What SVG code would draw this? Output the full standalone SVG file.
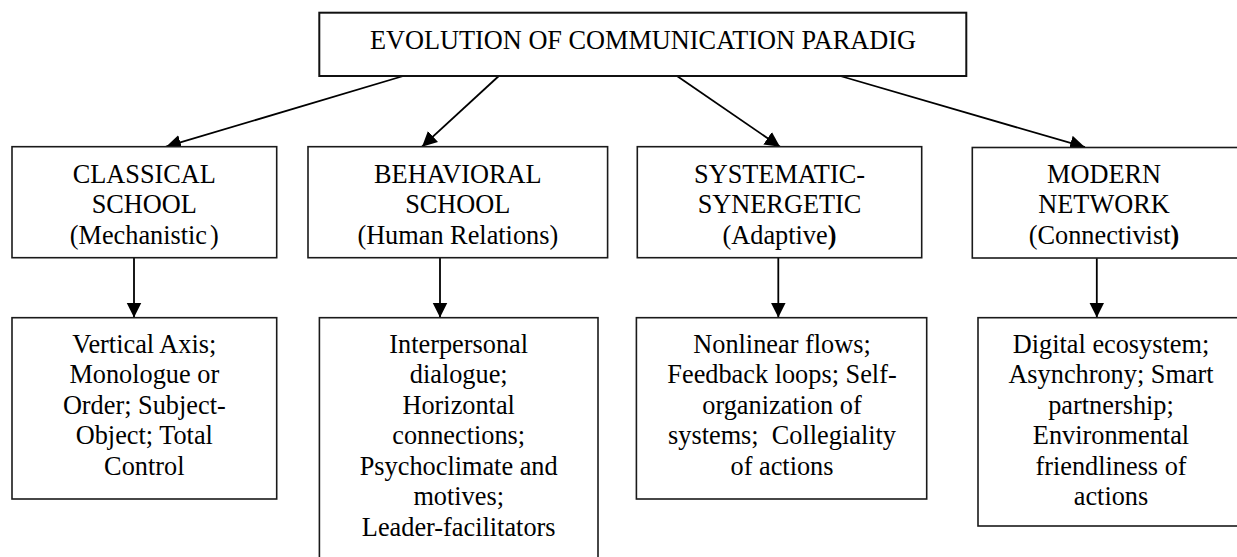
<svg xmlns="http://www.w3.org/2000/svg" width="1237" height="557" viewBox="0 0 1237 557">
  <style>
    .box { fill: #ffffff; stroke: #1a1a1a; stroke-width: 1.6; }
    .title { fill: #ffffff; stroke: #111111; stroke-width: 2; }
    .lbl { font-family: "Liberation Serif", "Times New Roman", serif; font-size: 26.3px; fill: #000000; text-anchor: middle; }
    .conn { stroke: #000000; stroke-width: 1.8; fill: none; marker-end: url(#arrow); }
    .bp { font-weight: bold; }
  </style>
  <defs>
    <marker id="arrow" markerUnits="userSpaceOnUse" markerWidth="16" markerHeight="16" refX="15" refY="7.5" orient="auto">
      <path d="M0,0 L15,7.5 L0,15 z" fill="#000000"/>
    </marker>
  </defs>
  <rect width="1237" height="557" fill="#ffffff"/>

  <g id="connectors">
    <line class="conn" x1="403.3" y1="76" x2="166" y2="146.7"/>
    <line class="conn" x1="498.8" y1="76" x2="422" y2="146.7"/>
    <line class="conn" x1="677" y1="76" x2="780" y2="146.7"/>
    <line class="conn" x1="840.3" y1="76" x2="1085" y2="147.2"/>
    <line class="conn" x1="134" y1="257.7" x2="134" y2="317.5"/>
    <line class="conn" x1="440" y1="257.7" x2="440" y2="317.5"/>
    <line class="conn" x1="778.3" y1="257.7" x2="778.3" y2="317.5"/>
    <line class="conn" x1="1096.8" y1="258.2" x2="1096.8" y2="317.5"/>
  </g>

  <g id="title">
    <rect class="title" x="319.3" y="12.7" width="647" height="63.3"/>
    <text class="lbl" x="643" y="49.3">EVOLUTION OF COMMUNICATION PARADIG</text>
  </g>

  <g id="classical">
    <rect class="box" x="12" y="146.7" width="264.7" height="111"/>
    <text class="lbl" x="144.3" y="182.7">CLASSICAL<tspan x="144.3" dy="30.5">SCHOOL</tspan><tspan x="144.3" dy="30.5">(Mechanistic<tspan dx="3">)</tspan></tspan></text>
  </g>

  <g id="behavioral">
    <rect class="box" x="308" y="146.7" width="299.6" height="111"/>
    <text class="lbl" x="457.8" y="182.7">BEHAVIORAL<tspan x="457.8" dy="30.5">SCHOOL</tspan><tspan x="457.8" dy="30.5">(Human Relations)</tspan></text>
  </g>

  <g id="systematic">
    <rect class="box" x="637.3" y="146.7" width="284.4" height="111"/>
    <text class="lbl" x="779.5" y="182.7">SYSTEMATIC-<tspan x="779.5" dy="30.5">SYNERGETIC</tspan><tspan x="779.5" dy="30.5">(Adaptive<tspan class="bp">)</tspan></tspan></text>
  </g>

  <g id="modern">
    <rect class="box" x="972.3" y="147.5" width="265.5" height="110.5"/>
    <text class="lbl" x="1104" y="182.7">MODERN<tspan x="1104" dy="30.5">NETWORK</tspan><tspan x="1104" dy="30.5">(Connectivist<tspan class="bp">)</tspan></tspan></text>
  </g>

  <g id="classical-detail">
    <rect class="box" x="12" y="317.7" width="264.7" height="181.3"/>
    <text class="lbl" x="144.3" y="352.7">Vertical Axis;<tspan x="144.3" dy="30.5">Monologue or</tspan><tspan x="144.3" dy="30.5">Order; Subject-</tspan><tspan x="144.3" dy="30.5">Object; Total</tspan><tspan x="144.3" dy="30.5">Control</tspan></text>
  </g>

  <g id="behavioral-detail">
    <rect class="box" x="319.4" y="317.7" width="278.6" height="250"/>
    <text class="lbl" x="458.7" y="352.7">Interpersonal<tspan x="458.7" dy="30.5">dialogue;</tspan><tspan x="458.7" dy="30.5">Horizontal</tspan><tspan x="458.7" dy="30.5">connections;</tspan><tspan x="458.7" dy="30.5">Psychoclimate and</tspan><tspan x="458.7" dy="30.5">motives;</tspan><tspan x="458.7" dy="30.5">Leader-facilitators</tspan></text>
  </g>

  <g id="systematic-detail">
    <rect class="box" x="636.4" y="317.7" width="290.3" height="181.3"/>
    <text class="lbl" x="782" y="352.7">Nonlinear flows;<tspan x="782" dy="30.5">Feedback loops; Self-</tspan><tspan x="782" dy="30.5">organization of</tspan><tspan x="782" dy="30.5">systems;&#160; Collegiality</tspan><tspan x="782" dy="30.5">of actions</tspan></text>
  </g>

  <g id="modern-detail">
    <rect class="box" x="978" y="317.7" width="265" height="208.3"/>
    <text class="lbl" x="1111" y="352.7">Digital ecosystem;<tspan x="1111" dy="30.5">Asynchrony; Smart</tspan><tspan x="1111" dy="30.5">partnership;</tspan><tspan x="1111" dy="30.5">Environmental</tspan><tspan x="1111" dy="30.5">friendliness of</tspan><tspan x="1111" dy="30.5">actions</tspan></text>
  </g>
</svg>
